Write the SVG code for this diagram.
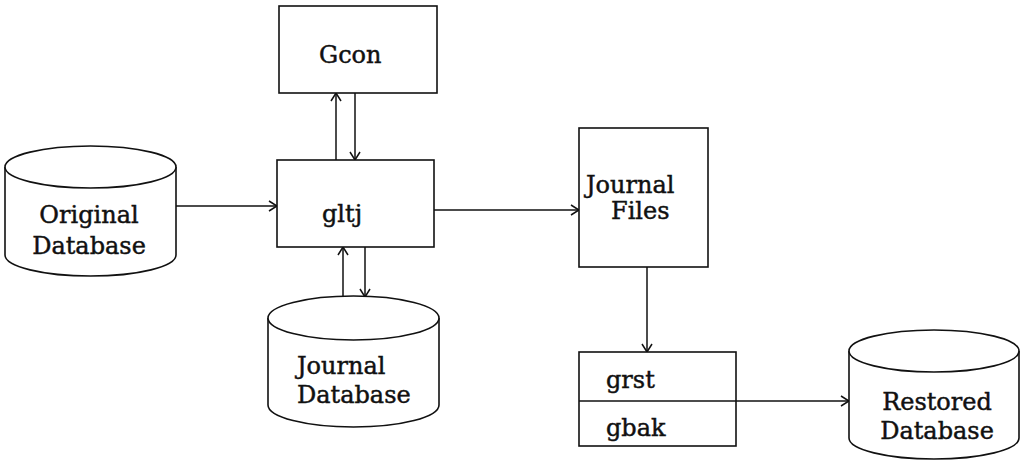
<svg xmlns="http://www.w3.org/2000/svg" width="1021" height="461" viewBox="0 0 1021 461">
<style>
.s{fill:none;stroke:#111;stroke-width:1.6}
.b{fill:#fff;stroke:#111;stroke-width:1.6}
.t{font-family:"DejaVu Serif",serif;font-size:24px;fill:#111;stroke:#111;stroke-width:0.45}
.c{stroke:#111;stroke-width:1.5;fill:none;marker-end:url(#ah)}
</style>
<defs>
<marker id="ah" markerWidth="10" markerHeight="12" refX="9" refY="6" orient="auto" markerUnits="userSpaceOnUse">
<path d="M1,1 L9,6 L1,11" fill="none" stroke="#111" stroke-width="1.5"/>
</marker>
</defs>
<rect width="1021" height="461" fill="#fff"/>
<g id="connectors">
<line class="c" x1="176" y1="206" x2="277" y2="206"/>
<line class="c" x1="336" y1="160" x2="336" y2="93"/>
<line class="c" x1="355" y1="93" x2="355" y2="160"/>
<line class="c" x1="343" y1="296" x2="343" y2="247"/>
<line class="c" x1="365" y1="247" x2="365" y2="297"/>
<line class="c" x1="434" y1="210" x2="579" y2="210"/>
<line class="c" x1="647" y1="267" x2="647" y2="352"/>
<line class="c" x1="736" y1="401" x2="849" y2="401"/>
</g>
<g id="original-db">
<path class="b" d="M5,167 L5,255 A85.5,21 0 0 0 176,255 L176,167"/>
<ellipse class="b" cx="90.5" cy="167" rx="85.5" ry="21"/>
<text class="t" x="89" y="223" text-anchor="middle">Original</text>
<text class="t" x="89" y="254" text-anchor="middle">Database</text>
</g>
<g id="gcon">
<rect class="b" x="279" y="6" width="158" height="87"/>
<text class="t" x="319" y="63">Gcon</text>
</g>
<g id="gltj">
<rect class="b" x="277" y="160" width="157" height="87"/>
<text class="t" x="322" y="222">gltj</text>
</g>
<g id="journal-db">
<path class="b" d="M268,318 L268,405 A85.5,22 0 0 0 439,405 L439,318"/>
<ellipse class="b" cx="353.5" cy="318" rx="85.5" ry="22"/>
<text class="t" x="297" y="374">Journal</text>
<text class="t" x="297" y="403">Database</text>
</g>
<g id="journal-files">
<rect class="b" x="579" y="128" width="129" height="139"/>
<text class="t" x="586" y="193">Journal</text>
<text class="t" x="611" y="219">Files</text>
</g>
<g id="grst-gbak">
<rect class="b" x="579" y="352" width="157" height="94"/>
<line class="s" x1="579" y1="401" x2="736" y2="401"/>
<text class="t" x="606" y="388">grst</text>
<text class="t" x="606" y="436">gbak</text>
</g>
<g id="restored-db">
<path class="b" d="M849,351 L849,438 A85,21 0 0 0 1019,438 L1019,351"/>
<ellipse class="b" cx="934" cy="351" rx="85" ry="21"/>
<text class="t" x="937" y="410" text-anchor="middle">Restored</text>
<text class="t" x="937" y="439" text-anchor="middle">Database</text>
</g>
</svg>
